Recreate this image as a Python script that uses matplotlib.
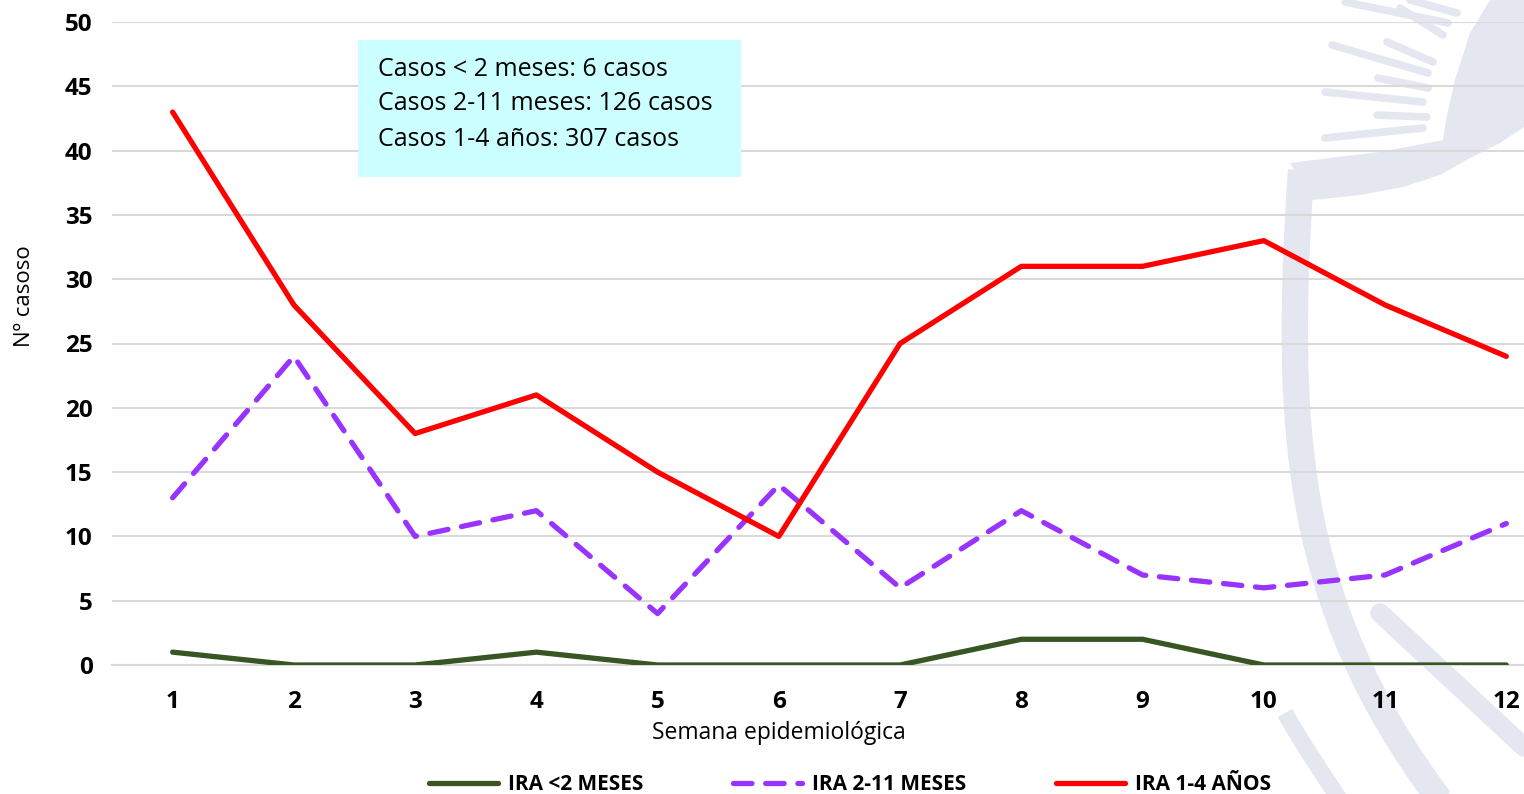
import matplotlib
matplotlib.use("Agg")
import matplotlib.pyplot as plt
from matplotlib.patches import Rectangle, Polygon, PathPatch
from matplotlib.path import Path
from matplotlib.lines import Line2D

plt.rcParams['font.family'] = ['Open Sans', 'DejaVu Sans']

semanas = [1, 2, 3, 4, 5, 6, 7, 8, 9, 10, 11, 12]
ira_menor2m = [1, 0, 0, 1, 0, 0, 0, 2, 2, 0, 0, 0]
ira_2_11m = [13, 24, 10, 12, 4, 14, 6, 12, 7, 6, 7, 11]
ira_1_4a = [43, 28, 18, 21, 15, 10, 25, 31, 31, 33, 28, 24]
nombres = ["IRA <2 MESES", "IRA 2-11 MESES", "IRA 1-4 AÑOS"]
resumen = ["Casos < 2 meses: 6 casos",
           "Casos 2-11 meses: 126 casos",
           "Casos 1-4 años: 307 casos"]

W, H = 1524, 794
fig = plt.figure(figsize=(W/100, H/100), dpi=100)
ax = fig.add_axes([112/W, 1 - 665/H, 1 - 112/W, (665 - 22)/H])
ax.set_facecolor('none')

# marca de agua (escudo muy claro, aproximado)
wm = '#e4e7ef'
def px(x, y):
    return (x / W, 1 - y / H)
def trazo(xs, ys, lw):
    fig.lines.append(Line2D([x / W for x in xs], [1 - y / H for y in ys], color=wm, lw=lw,
                            solid_capstyle='round', transform=fig.transFigure, zorder=-2))
def curva(pts, lw):
    p = Path([px(*q) for q in pts], [Path.MOVETO, Path.CURVE4, Path.CURVE4, Path.CURVE4])
    fig.patches.append(PathPatch(p, facecolor='none', edgecolor=wm, lw=lw,
                                 transform=fig.transFigure, zorder=-2))
fig.patches.append(Polygon([px(x, y) for x, y in
                            [(1524, 0), (1490, 0), (1470, 33), (1455, 80), (1446, 120),
                             (1443, 140), (1380, 152), (1330, 158), (1290, 163),
                             (1313, 200), (1360, 195), (1403, 187), (1440, 175),
                             (1470, 158), (1500, 143), (1524, 127)]],
                           transform=fig.transFigure, facecolor=wm,
                           edgecolor='none', zorder=-2))
curva([(1301, 170), (1285, 420), (1290, 600), (1440, 800)], 19)
for x0, y0, x1, y1 in [(1345, 2, 1448, 23), (1400, 8, 1443, 35), (1410, 0, 1457, 13),
                       (1332, 45, 1428, 73), (1387, 42, 1433, 62), (1378, 78, 1428, 88),
                       (1325, 92, 1423, 102), (1377, 115, 1427, 117),
                       (1325, 138, 1423, 128)]:
    trazo([x0, x1], [y0, y1], 5.5)
trazo([1380, 1524], [613, 747], 14)
curva([(1285, 713), (1300, 740), (1320, 770), (1340, 800)], 12)

ax.plot(semanas, ira_menor2m, color='#375623', lw=3.8, solid_capstyle='round',
        label=nombres[0], zorder=3)
ax.plot(semanas, ira_2_11m, color='#9933ff', lw=3.8, dashes=(3.5, 2.6),
        dash_capstyle='round', label=nombres[1], zorder=3)
ax.plot(semanas, ira_1_4a, color='#ff0000', lw=3.8, solid_capstyle='round',
        label=nombres[2], zorder=4)

ax.set_xlim(0.5, 12.146)
ax.set_ylim(0, 50)
ax.set_yticks(range(0, 51, 5))
ax.set_xticks(semanas)
ax.grid(axis='y', color='#d9d9d9', lw=1.5)
ax.set_axisbelow(True)
for s in ['top', 'right', 'left']:
    ax.spines[s].set_visible(False)
ax.spines['bottom'].set_color('#d9d9d9')
ax.spines['bottom'].set_linewidth(1.5)
ax.tick_params(length=0, labelsize=17.5, pad=18)
ax.tick_params(axis='y', pad=14)
for lab in ax.get_xticklabels() + ax.get_yticklabels():
    lab.set_fontweight('bold')

fig.text(779/W, 1 - 733/H, "Semana epidemiológica", fontsize=16.5,
         ha='center', va='center')
fig.text(25/W, 1 - 296/H, "Nº casoso", rotation=90, fontsize=16,
         ha='center', va='center')

# cuadro resumen
fig.patches.append(Rectangle((358/W, 1 - 177/H), (741 - 358)/W, (177 - 40)/H,
                             transform=fig.transFigure, facecolor='#ccffff',
                             edgecolor='none', zorder=5))
for i, t in enumerate(resumen):
    fig.text(378/W, 1 - (69 + 35*i)/H, t, fontsize=18, va='center',
             ha='left', zorder=6)

leg = fig.legend(loc='center', bbox_to_anchor=(850/W, 1 - 785/H), ncol=3,
                 frameon=False, handlelength=3.3, handletextpad=0.5,
                 columnspacing=4.3, prop={'weight': 'bold', 'size': 15})

fig.savefig("out.png", dpi=100)
